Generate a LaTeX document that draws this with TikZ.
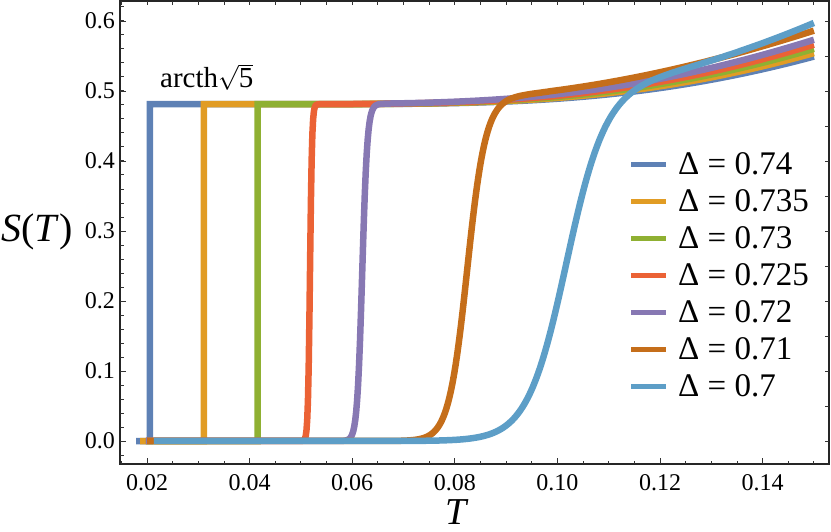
\documentclass[tikz,border=0pt]{standalone}
\usepackage{fontspec}
\setmainfont{Liberation Serif}
\definecolor{pal1}{rgb}{0.368417,0.506779,0.709798}
\definecolor{pal2}{rgb}{0.880722,0.611041,0.142051}
\definecolor{pal3}{rgb}{0.560181,0.691569,0.194885}
\definecolor{pal4}{rgb}{0.922526,0.385626,0.209179}
\definecolor{pal5}{rgb}{0.528488,0.470624,0.701351}
\definecolor{pal6}{rgb}{0.772079,0.431554,0.102387}
\definecolor{pal7}{rgb}{0.363898,0.618501,0.782349}

\begin{document}
\begin{tikzpicture}[x=5.13pt,y=700pt,
  declare function={
    shi(\tv,\dv,\ev)=0.4812+\dv*exp(max(-9,\ev*(6.667-1000/\tv)));
    sig(\tv,\mv,\wv)=1/(1+exp(min(9,max(-9,(\mv-\tv)/\wv))));
  },
  curve/.style={line width=6.5pt},
  tick/.style={line width=0.9pt,black!80},
  ticklab/.style={inner sep=0pt,font=\fontsize{24}{28}\selectfont},
  leglab/.style={anchor=west,inner sep=0pt,font=\fontsize{33}{38}\selectfont}]
\useasboundingbox (-8.655,-0.128571) rectangle (153.33,0.63);

   % first order jumps
   \draw[curve,pal1] (17.86,0) -- (20.58,0) -- plot[domain=20.58:150,samples=150] (\x,{shi(\x,0.068,0.65)});
   \draw[curve,pal2] (18.64,0) -- (31.1,0) -- plot[domain=31.1:150,samples=150] (\x,{shi(\x,0.073,0.63)});
   \draw[curve,pal3] (19.8,0) -- (41.54,0) -- plot[domain=41.54:150,samples=150] (\x,{shi(\x,0.079,0.61)});
   % smooth crossovers
   \draw[curve,pal4] plot[domain=19.8:150,samples=900] (\x,{shi(\x,0.085,0.59)*sig(\x,51.77,0.2)});
   \draw[curve,pal5] plot[domain=19.8:150,samples=700] (\x,{shi(\x,0.092,0.56)*sig(\x,61.95,0.5)});
   \draw[curve,pal6] plot[domain=20.0:150,samples=500] (\x,{shi(\x,0.105,0.50)*sig(\x,82.4,1.8)});
   \draw[curve,pal7] plot[domain=21.36:150,samples=500] (\x,{shi(\x,0.116,0.60)*sig(\x,101.6,3.8)});

   % frame and ticks
   \draw[line width=1.3pt,black!85] (14.74,-0.0329) rectangle (152.94,0.6286);
   \foreach \t in {15,20,...,150} {
    \draw[tick] (\t,-0.0329) -- ++(0,3.5pt);
    \draw[tick] (\t,0.6286) -- ++(0,-4pt);
   }
   \foreach \t/\lab in {20/0.02,40/0.04,60/0.06,80/0.08,100/0.10,120/0.12,140/0.14} {
    \draw[tick] (\t,-0.0329) -- ++(0,6pt);
    \node[ticklab,anchor=north] (xt\t) at (\t,-0.0471) {\lab};
   }
   \foreach \k in {-1,...,31}
    \draw[tick] (14.74,{\k*0.02}) -- ++(3.5pt,0);
   \foreach \k in {0,...,6} {
    \draw[tick] (14.74,{\k/10}) -- ++(6pt,0);
    \node[ticklab,anchor=east] (yt\k) at (13.76,{\k/10}) {0.\k};
   }
   \foreach \k in {0,...,12}
    \draw[tick] (152.94,{\k*0.05}) -- ++(-4pt,0);

   % labels
   \node[anchor=base,inner sep=0pt,font=\fontsize{38}{44}\selectfont] (xlab) at (80.4,-0.1186) {\textit{T}};
   \node[font=\fontsize{40}{46}\selectfont] (ylab) at (-1.443,0.2986) {\textit{S}(\textit{T})};
   \node[anchor=base west,inner sep=0pt,font=\fontsize{29}{34}\selectfont] (arcth) at (22.53,0.5043) {arcth$\sqrt{\mbox{5}}$};

   % legend
   \foreach \c/\lab [count=\i from 0] in {pal1/0.74,pal2/0.735,pal3/0.73,pal4/0.725,pal5/0.72,pal6/0.71,pal7/0.7} {
    \coordinate (lg\i a) at (114.35,{0.3957-0.0529*\i});
    \coordinate (lg\i b) at (121.17,{0.3957-0.0529*\i});
    \draw[\c,line width=5pt] (lg\i a) -- (lg\i b);
    \node[leglab] (lt\i) at (123.5,{0.3957-0.0529*\i}) {Δ = \lab};
   }
\end{tikzpicture}
\end{document}
